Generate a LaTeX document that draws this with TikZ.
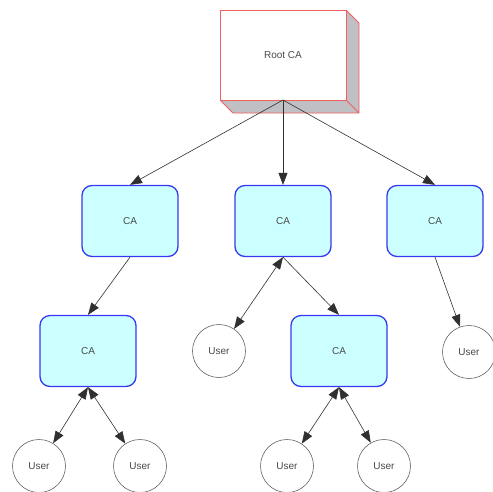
\documentclass[tikz,border=0pt]{standalone}
\usepackage{fontspec}
\setmainfont{Liberation Sans}
\usetikzlibrary{arrows.meta}
\definecolor{cafill}{HTML}{CCFFFF}
\definecolor{caline}{HTML}{3838F0}
\definecolor{rootline}{HTML}{F06060}
\definecolor{sidegrey}{HTML}{BFBFC4}
\definecolor{edgegrey}{HTML}{303030}
\definecolor{txt}{HTML}{4A4A4A}
\tikzset{
  cabox/.style={draw=caline, line width=1.3pt, fill=cafill, rounded corners=10pt,
    minimum width=96pt, minimum height=71pt, inner sep=0pt, text=txt, font=\fontsize{10}{11}\selectfont},
  userc/.style={draw=edgegrey!75, line width=0.6pt, fill=white, circle, minimum size=53pt,
    inner sep=0pt, text=txt, font=\fontsize{10}{11}\selectfont},
  rootbox/.style={draw=rootline, line width=0.8pt, fill=white, minimum width=126pt,
    minimum height=90pt, inner sep=0pt, text=txt, font=\fontsize{10}{11}\selectfont},
  link/.style={draw=edgegrey, line width=0.6pt, -{Triangle[length=12pt,width=9pt]}},
  duplink/.style={draw=edgegrey, line width=0.6pt,
    {Triangle[length=12pt,width=9pt]}-{Triangle[length=12pt,width=9pt]}}
}
\begin{document}
\begin{tikzpicture}[x=1pt,y=-1pt]
  \useasboundingbox (0,0) rectangle (493,491);
  % 3-D sides of the root box
  \fill[sidegrey] (346,10) -- (359,23) -- (359,113) -- (346,100) -- cycle;
  \fill[sidegrey] (220,100) -- (233,113) -- (359,113) -- (346,100) -- cycle;
  \draw[rootline, line width=0.8pt, line join=round]
    (346,10) -- (359,23) -- (359,113) -- (233,113) -- (220,100) (346,100) -- (359,113);
  \node[rootbox] (root) at (283,55) {Root CA};

  % intermediate authorities
  \node[cabox] (ca1) at (130,221) {CA};
  \node[cabox] (ca2) at (283,221) {CA};
  \node[cabox] (ca3) at (435,221) {CA};
  \node[cabox] (ca4) at (88,351) {CA};
  \node[cabox] (ca5) at (339,351) {CA};

  % end users
  \node[userc] (u1) at (219,351) {User};
  \node[userc] (u2) at (469,352) {User};
  \node[userc] (u3) at (39,466) {User};
  \node[userc] (u4) at (140,466) {User};
  \node[userc] (u5) at (287,466) {User};
  \node[userc] (u6) at (384,466) {User};

  % certificate chain
  \coordinate (rs) at (283,100);
  \draw[link] (rs) -- (ca1.north);
  \draw[link] (rs) -- (ca2.north);
  \draw[link] (rs) -- (ca3.north);
  \draw[link] (ca1.south) -- (ca4.north);
  \draw[duplink] (ca2.south) -- (u1);
  \draw[link] (ca2.south) -- (ca5.north);
  \draw[link] (ca3.south) -- (u2);
  \draw[duplink] (ca4.south) -- (u3);
  \draw[duplink] (ca4.south) -- (u4);
  \draw[duplink] (ca5.south) -- (u5);
  \draw[duplink] (ca5.south) -- (u6);
\end{tikzpicture}
\end{document}
